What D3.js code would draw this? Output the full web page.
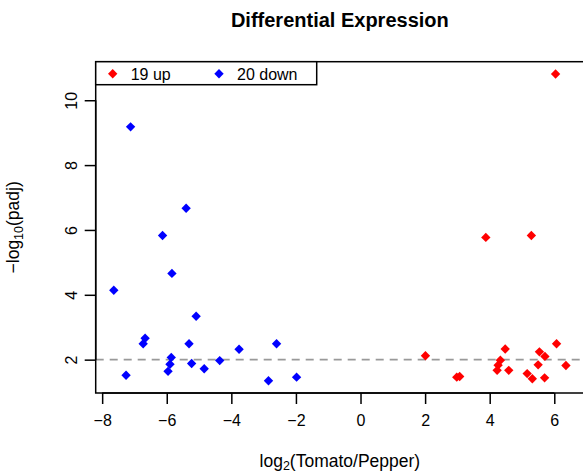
<!DOCTYPE html>
<html>
<head>
<meta charset="utf-8">
<script src="https://cdn.jsdelivr.net/npm/d3@7"></script>
<style>
  body { margin: 0; background: #fff; }
  svg text { font-family: "Liberation Sans", Arial, sans-serif; fill: #000; }
</style>
</head>
<body>
<svg id="chart" width="583" height="474"></svg>
<script>
//////////////////// DATA ////////////////////
// genes up in Tomato (log2 fold change, -log10 padj)
const upFC = [2.01, 2.98, 3.07, 3.88, 4.23, 4.26, 4.33, 4.48, 4.59, 5.16, 5.29, 5.32, 5.50, 5.54, 5.71, 5.70, 6.07, 6.36, 6.04];
const upP  = [2.12, 1.46, 1.48, 5.77, 1.67, 1.83, 1.98, 2.33, 1.67, 1.57, 5.83, 1.41, 1.84, 2.24, 2.10, 1.44, 2.49, 1.82, 10.81];

// genes down
const downFC = [-7.64, -7.26, -6.73, -6.67, -6.13, -5.96, -5.90, -5.86, -5.84, -5.40, -5.31, -5.23, -5.09, -4.84, -4.36, -3.76, -2.85, -2.60, -1.98, -7.12];
const downP  = [4.14, 1.52, 2.49, 2.66, 5.83, 1.64, 1.86, 2.07, 4.66, 6.67, 2.49, 1.88, 3.34, 1.72, 1.97, 2.32, 1.35, 2.49, 1.46, 9.18];

const xTicks = [-8, -6, -4, -2, 0, 2, 4, 6];
const yTicks = [2, 4, 6, 8, 10];
const threshold = 2;
const legendLabels = ["19 up", "20 down"];
const seriesColors = ["#ff0000", "#0000ff"];

//////////////////// SIZES ////////////////////
const plot = { left: 95.7, right: 584, top: 61.7, bottom: 393 };

const svg = d3.select("#chart");

// R-style domain: data range extended by 4%
const xAll = upFC.concat(downFC);
const yAll = upP.concat(downP);
const xExt = d3.extent(xAll), yExt = d3.extent(yAll);
const xPad = (xExt[1] - xExt[0]) * 0.04, yPad = (yExt[1] - yExt[0]) * 0.04;

const x = d3.scaleLinear().domain([xExt[0] - xPad, xExt[1] + xPad]).range([plot.left, plot.right]);
const y = d3.scaleLinear().domain([yExt[0] - yPad, yExt[1] + yPad]).range([plot.bottom, plot.top]);

//////////////////// THRESHOLD ////////////////////
svg.append("line")
    .attr("x1", plot.left).attr("x2", plot.right)
    .attr("y1", y(threshold)).attr("y2", y(threshold))
    .attr("stroke", "#999")
    .attr("stroke-width", 1.6)
    .attr("stroke-dasharray", "8,6");

//////////////////// POINTS ////////////////////
const diamond = d3.symbol().type(d3.symbolDiamond2).size(56);

function drawPoints(fc, p, color) {
    svg.append("g")
        .selectAll("path")
        .data(fc.map((d, i) => [d, p[i]]))
        .enter()
        .append("path")
        .attr("d", diamond)
        .attr("transform", d => `translate(${x(d[0])},${y(d[1])})`)
        .attr("fill", color);
}
drawPoints(upFC, upP, seriesColors[0]);
drawPoints(downFC, downP, seriesColors[1]);

//////////////////// BOX + AXES ////////////////////
svg.append("rect")
    .attr("x", plot.left).attr("y", plot.top)
    .attr("width", plot.right - plot.left).attr("height", plot.bottom - plot.top)
    .attr("fill", "none").attr("stroke", "#000").attr("stroke-width", 1.5);

const xAxis = svg.append("g")
    .attr("transform", `translate(0,${plot.bottom})`)
    .call(d3.axisBottom(x).tickValues(xTicks).tickSize(11).tickPadding(11).tickFormat(d => d < 0 ? "\u2212" + Math.abs(d) : d));
xAxis.select(".domain").attr("d", `M${x(xTicks[0])},0H${x(xTicks[xTicks.length - 1])}`).attr("stroke-width", 1.5);
xAxis.selectAll(".tick line").attr("stroke-width", 1.5);
xAxis.selectAll("text").style("font-size", "16px");

const yAxis = svg.append("g")
    .attr("transform", `translate(${plot.left},0)`)
    .call(d3.axisLeft(y).tickValues(yTicks).tickSize(11));
yAxis.select(".domain").attr("d", `M0,${y(yTicks[0])}V${y(yTicks[yTicks.length - 1])}`).attr("stroke-width", 1.5);
yAxis.selectAll(".tick line").attr("stroke-width", 1.5);
yAxis.selectAll("text")
    .style("font-size", "16px")
    .attr("x", null).attr("dy", null)
    .attr("text-anchor", "middle")
    .attr("transform", "translate(-25,0) rotate(-90) translate(0,6)");

//////////////////// TEXTS ////////////////////
const cx = (plot.left + plot.right) / 2;
svg.append("text")
    .attr("x", cx).attr("y", 26.5)
    .attr("text-anchor", "middle")
    .style("font-size", "20px").style("font-weight", "bold")
    .text("Differential Expression");

const xl = svg.append("text")
    .attr("x", cx).attr("y", 467)
    .attr("text-anchor", "middle")
    .style("font-size", "17.5px");
xl.append("tspan").text("log");
xl.append("tspan").attr("dy", 3).style("font-size", "12.5px").text("2");
xl.append("tspan").attr("dy", -3).text("(Tomato/Pepper)");

const yl = svg.append("text")
    .attr("transform", `translate(18.5,${(plot.top + plot.bottom) / 2}) rotate(-90)`)
    .attr("text-anchor", "middle")
    .style("font-size", "17.5px");
yl.append("tspan").text("\u2212log");
yl.append("tspan").attr("dy", 4).style("font-size", "12.5px").text("10");
yl.append("tspan").attr("dy", -4).text("(padj)");

//////////////////// LEGEND ////////////////////
const legend = svg.append("g");
legend.append("rect")
    .attr("x", plot.left).attr("y", plot.top)
    .attr("width", 221).attr("height", 23)
    .attr("fill", "#fff").attr("stroke", "#000").attr("stroke-width", 1.5);

const legendX = [112.7, 219];
legendLabels.forEach((lab, i) => {
    legend.append("path")
        .attr("d", diamond)
        .attr("transform", `translate(${legendX[i]},${plot.top + 12})`)
        .attr("fill", seriesColors[i]);
    legend.append("text")
        .attr("x", legendX[i] + 18).attr("y", plot.top + 18)
        .style("font-size", "16px")
        .text(lab);
});
</script>
</body>
</html>
